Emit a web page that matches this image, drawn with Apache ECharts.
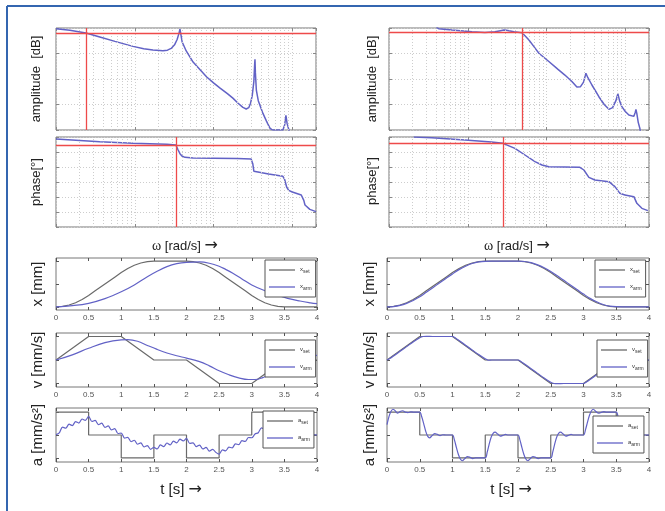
<!DOCTYPE html>
<html><head><meta charset="utf-8">
<script src="https://cdn.jsdelivr.net/npm/echarts@6/dist/echarts.min.js"></script>
<style>html,body{margin:0;padding:0;background:#fff}#c{width:665px;height:511px}</style>
</head><body><div id="c"></div>
<script>
// ---------- Bode data (omega [rad/s], value) ----------
const omegaRange = [1, 2000];
const leftAmp = [[1,19.5],[1.5,18.3],[2.4,16.1],[3.6,13.0],[5.6,9.5],[9.5,5.6],[13,3.8],[17,2.7],[22.8,2.1],[26,2.6],[29,4.0],[32,6.8],[34.5,11],[36.5,16],[37.5,19.2],[38.5,15],[40,9],[45,2],[55,-6.7],[68,-13],[82,-18.4],[100,-23],[120,-27],[150,-31.5],[176,-35],[205,-39],[236,-42.3],[260,-43.5],[280,-42.5],[295,-39],[310,-33],[325,-22],[333,-8],[336,-4.5],[340,-15],[350,-29],[370,-37],[424,-47],[470,-53],[520,-58.5],[560,-60],[760,-60],[800,-56],[830,-48.5],[860,-55],[906,-60],[940,-70]];
const leftPhase = [[1,-12],[3.6,-28],[9.5,-38],[25.6,-44],[33.3,-48],[35.3,-75],[37.5,-100],[39.7,-114],[43.4,-122],[55,-126],[100,-127],[200,-129],[300,-132],[315,-160],[325,-205],[340,-214],[500,-222],[760,-236],[800,-255],[848,-300],[900,-320],[1000,-330],[1300,-348],[1400,-380],[1450,-408],[1670,-434],[2000,-448]];
const rightAmp = [[4,20.5],[4.27,19.5],[6.3,18.4],[11.3,17.1],[16.5,16.4],[22.1,17.1],[26,17.9],[28.8,18.4],[31,18.2],[33.3,17.8],[38.6,17.0],[48.7,16.3],[54,13.5],[59.8,10.6],[70,5],[80,0.2],[107,-6.3],[140,-12.5],[171,-16.9],[210,-22],[243,-26.3],[270,-26],[295,-22.5],[316,-15.5],[335,-19],[377,-24.7],[462,-33.9],[540,-40],[620,-43.8],[690,-42.5],[760,-37],[805,-31.5],[850,-37.5],[905,-41.7],[1000,-45.5],[1110,-48.2],[1285,-49.3],[1340,-46],[1365,-43.8],[1400,-47],[1460,-54],[1530,-58.6],[1600,-66]];
const rightPhase = [[2.06,0],[3.5,-4],[9.2,-18],[20,-30],[28,-38],[39.7,-68],[53.2,-108],[71.3,-148],[87.5,-168],[107,-178],[265,-182],[298,-198],[345,-242],[411,-258],[620,-268],[738,-298],[855,-338],[989,-348],[1285,-358],[1403,-398],[1625,-428],[1936,-442]];
// red reference lines: [vertical omega, horizontal value]
const redLeftAmp = [2.4, 16.1];
const redLeftPhase = [33.3, -48];
const redRightAmp = [48.7, 16.3];
const redRightPhase = [28, -38];

// ---------- time-domain data (t [s], value) ----------
const timeTicks = [0, 4, 0.5];
const xSet = [[0,0],[0.1,1],[0.2,4],[0.3,9],[0.4,16],[0.5,25],[0.6,35],[0.7,45],[0.8,55],[0.9,65],[1.0,75],[1.1,84],[1.2,91],[1.3,96],[1.4,99],[1.5,100],[2.0,100],[2.1,99],[2.2,96],[2.3,91],[2.4,84],[2.5,75],[2.6,65],[2.7,55],[2.8,45],[2.9,35],[3.0,25],[3.1,16],[3.2,9],[3.3,4],[3.4,1],[3.5,0],[4,0]];
const vSet = [[0,0],[0.5,100],[1,100],[1.5,0],[2,0],[2.5,-100],[3,-100],[3.5,0],[4,0]];
const aSet = [[0,200],[0.5,0],[1,-200],[1.5,0],[2,-200],[2.5,0],[3,200],[3.5,0],[4,0]];

const xArmLeft = [[0,0],[0.25,2.5],[0.5,7.7],[0.75,18],[1.0,33],[1.2,48],[1.4,66],[1.55,78],[1.7,88],[1.85,94.5],[2.0,97.5],[2.2,98.3],[2.35,95.5],[2.5,89],[2.6,82],[2.71,73.5],[2.85,61],[3.0,48],[3.2,35.5],[3.38,26],[3.55,18.5],[3.74,12.7],[3.9,8.8],[4.0,6.8]];
const vArmLeft = [[0,0],[0.25,22],[0.5,50],[0.75,74],[1.0,86],[1.1,87],[1.25,80],[1.4,62],[1.55,45],[1.7,30],[1.85,18],[2.0,8],[2.2,-7],[2.35,-25],[2.5,-46],[2.65,-63],[2.8,-76],[2.95,-83],[3.05,-83],[3.17,-75],[3.28,-62],[3.43,-29],[3.54,-4],[3.7,10],[4.0,20]];
const aArmLeft = [[0,3],[0.05,18],[0.1,69],[0.15,60],[0.2,95],[0.25,82],[0.3,117],[0.35,104],[0.4,140],[0.45,128],[0.5,162],[0.55,118],[0.6,127],[0.65,91],[0.7,103],[0.75,67],[0.8,79],[0.85,44],[0.9,56],[0.95,13],[1.0,17],[1.05,-27],[1.1,-21],[1.15,-59],[1.2,-46],[1.25,-81],[1.3,-69],[1.35,-105],[1.4,-93],[1.45,-125],[1.5,-108],[1.55,-122],[1.6,-87],[1.65,-102],[1.7,-70],[1.75,-86],[1.8,-53],[1.85,-68],[1.9,-36],[1.95,-52],[2.0,-30],[2.05,-74],[2.1,-68],[2.15,-102],[2.2,-88],[2.25,-122],[2.3,-108],[2.35,-141],[2.4,-125],[2.45,-152],[2.5,-168],[2.55,-130],[2.6,-138],[2.65,-106],[2.7,-112],[2.75,-78],[2.8,-84],[2.85,-50],[2.9,-56],[2.95,-22],[3.0,-24],[3.05,8],[3.1,20],[3.15,62],[3.2,50],[3.25,82],[3.3,70],[3.4,60],[3.6,30],[3.8,10],[4.0,0]];

const xArmRight = [[0,0],[0.1,0.6],[0.2,3],[0.3,7.6],[0.4,14],[0.5,22],[0.6,32],[0.7,42],[0.8,52],[0.9,62],[1.0,72],[1.1,81.5],[1.2,89],[1.3,95],[1.4,98.5],[1.5,99.8],[1.6,100],[2.0,100],[2.1,99.3],[2.2,96.8],[2.3,92],[2.4,85.5],[2.5,77.5],[2.6,68],[2.7,58],[2.8,48],[2.9,38],[3.0,28],[3.1,18.5],[3.2,11],[3.3,5],[3.4,1.5],[3.5,0.2],[3.6,0],[4,0]];
const vArmRight = [[0,0],[0.05,7],[0.1,17],[0.2,37],[0.3,57],[0.4,77],[0.5,95],[0.55,100],[0.6,101],[0.7,100],[1.0,100],[1.05,93],[1.1,83],[1.2,63],[1.3,43],[1.4,23],[1.5,5],[1.55,-1],[1.6,0],[2.0,0],[2.05,-7],[2.1,-17],[2.2,-37],[2.3,-57],[2.4,-77],[2.5,-95],[2.55,-100],[2.6,-101],[2.7,-100],[3.0,-100],[3.05,-93],[3.1,-83],[3.2,-63],[3.3,-43],[3.4,-23],[3.5,-5],[3.55,1],[3.6,0],[4,0]];
const aArmRight = [[0,90],[0.03,160],[0.06,205],[0.09,225],[0.12,215],[0.16,190],[0.2,205],[0.24,212],[0.28,200],[0.32,196],[0.36,203],[0.4,200],[0.5,200],[0.53,160],[0.56,100],[0.59,35],[0.62,-10],[0.65,-25],[0.69,-5],[0.73,12],[0.77,5],[0.81,-5],[0.85,2],[0.9,0],[1.0,0],[1.03,-45],[1.06,-110],[1.09,-170],[1.12,-210],[1.15,-225],[1.19,-205],[1.23,-188],[1.27,-196],[1.31,-206],[1.35,-200],[1.5,-200],[1.53,-150],[1.56,-80],[1.59,-20],[1.62,15],[1.65,25],[1.69,8],[1.73,-10],[1.77,-3],[1.81,5],[1.85,0],[2.0,0],[2.03,-45],[2.06,-110],[2.09,-170],[2.12,-210],[2.15,-225],[2.19,-205],[2.23,-188],[2.27,-196],[2.31,-206],[2.35,-200],[2.5,-200],[2.53,-150],[2.56,-80],[2.59,-20],[2.62,15],[2.65,25],[2.69,8],[2.73,-10],[2.77,-3],[2.81,5],[2.85,0],[3.0,0],[3.03,45],[3.06,110],[3.09,170],[3.12,210],[3.15,225],[3.19,205],[3.23,190],[3.27,198],[3.31,205],[3.35,200],[3.5,200],[3.53,150],[3.56,80],[3.6,20],[3.65,-15],[3.7,5],[3.8,0],[4,0]];

// ---------- build ----------
const BLUE = '#6262c6', GRAY = '#6a6a6a', RED = '#ee4a4a';
const GRIDC = '#cdcdcd';
const FONT = '"Liberation Sans", Arial, sans-serif';

const grids = [
  {left:56, top:28, width:260, height:102},
  {left:56, top:137, width:260, height:90},
  {left:389, top:28, width:260, height:102},
  {left:389, top:137, width:260, height:90},
  {left:56, top:258, width:261, height:52},
  {left:56, top:333, width:261, height:54},
  {left:56, top:408, width:261, height:54},
  {left:387, top:258, width:262, height:52},
  {left:387, top:333, width:262, height:54},
  {left:387, top:408, width:262, height:54}
].map(g => Object.assign({show:true, borderColor:'#777', borderWidth:1, backgroundColor:'transparent'}, g));

const xAxes = [], yAxes = [];
function bodeAxes(gi, ymin, ymax, yint) {
  const base = {type:'log', logBase:10, gridIndex:gi, min:omegaRange[0], max:omegaRange[1],
    axisLine:{show:false, onZero:false}, axisLabel:{show:false},
    axisTick:{show:true, inside:true, length:3, lineStyle:{color:'#888'}}};
  xAxes.push(Object.assign({}, base, {position:'bottom', splitLine:{show:true, lineStyle:{color:GRIDC, type:[1,2]}}}));
  xAxes.push(Object.assign({}, base, {position:'top', splitLine:{show:false}}));
  const yb = {type:'value', gridIndex:gi, min:ymin, max:ymax, interval:yint,
    axisLine:{show:false, onZero:false}, axisLabel:{show:false},
    axisTick:{show:true, inside:true, length:3, lineStyle:{color:'#888'}}};
  yAxes.push(Object.assign({}, yb, {position:'left', splitLine:{show:true, lineStyle:{color:GRIDC, type:[1,2]}}}));
  yAxes.push(Object.assign({}, yb, {position:'right', splitLine:{show:false}}));
}
function timeAxes(gi, ymin, ymax, yticks) {
  const base = {type:'value', gridIndex:gi, min:timeTicks[0], max:timeTicks[1], interval:timeTicks[2],
    axisLine:{show:false, onZero:false}, splitLine:{show:false},
    axisTick:{show:true, inside:true, length:3, lineStyle:{color:'#555'}}};
  xAxes.push(Object.assign({}, base, {position:'bottom', axisLabel:{show:true, fontSize:8, color:'#555', margin:4, fontFamily:FONT}}));
  xAxes.push(Object.assign({}, base, {position:'top', axisLabel:{show:false}}));
  const yb = {type:'value', gridIndex:gi, min:ymin, max:ymax, axisLine:{show:false, onZero:false}, splitLine:{show:false}, axisLabel:{show:false},
    axisTick:{show:true, inside:true, length:3, customValues:yticks, lineStyle:{color:'#555'}}};
  yAxes.push(Object.assign({}, yb, {position:'left'}));
  yAxes.push(Object.assign({}, yb, {position:'right'}));
}
bodeAxes(0, -60, 20, 20);
bodeAxes(1, -540, 0, 90);
bodeAxes(2, -60, 20, 20);
bodeAxes(3, -540, 0, 90);
timeAxes(4, -7, 107, [0,50,100]);
timeAxes(5, -115, 115, [-100,0,100]);
timeAxes(6, -236, 236, [-200,0,200]);
timeAxes(7, -7, 107, [0,50,100]);
timeAxes(8, -115, 115, [-100,0,100]);
timeAxes(9, -236, 236, [-200,0,200]);

// minor log grid lines (2..9 per decade)
const minorW = [];
for (let d = 1; d < omegaRange[1]; d *= 10) for (let k = 2; k <= 9; k++) if (d*k < omegaRange[1]) minorW.push(d*k);

function bodeSeries(gi, data, red) {
  const ml = minorW.map(w => ({xAxis:w, lineStyle:{color:GRIDC, width:1, type:[1,2]}}));
  ml.push({xAxis:red[0], lineStyle:{color:RED, width:1.3, type:'solid'}});
  ml.push({yAxis:red[1], lineStyle:{color:RED, width:1.3, type:'solid'}});
  return {type:'line', xAxisIndex:2*gi, yAxisIndex:2*gi, data, symbol:'none', clip:true,
    lineStyle:{color:BLUE, width:1.5}, z:3,
    markLine:{silent:true, symbol:'none', label:{show:false}, animation:false, data:ml}};
}
function tSeries(gi, name, data, color, opts) {
  return Object.assign({type:'line', name, xAxisIndex:2*gi, yAxisIndex:2*gi, data, symbol:'none', clip:true,
    lineStyle:{color, width:1.2}, itemStyle:{color}}, opts||{});
}
const series = [
  bodeSeries(0, leftAmp, redLeftAmp),
  bodeSeries(1, leftPhase, redLeftPhase),
  bodeSeries(2, rightAmp, redRightAmp),
  bodeSeries(3, rightPhase, redRightPhase),
  tSeries(4, 'x_set_L', xSet, GRAY),
  tSeries(4, 'x_arm_L', xArmLeft, BLUE, {smooth:0.4}),
  tSeries(5, 'v_set_L', vSet, GRAY),
  tSeries(5, 'v_arm_L', vArmLeft, BLUE, {smooth:0.4}),
  tSeries(6, 'a_set_L', aSet, GRAY, {step:'end'}),
  tSeries(6, 'a_arm_L', aArmLeft, BLUE, {smooth:0.3}),
  tSeries(7, 'x_set_R', xSet, GRAY),
  tSeries(7, 'x_arm_R', xArmRight, BLUE, {smooth:0.3}),
  tSeries(8, 'v_set_R', vSet, GRAY),
  tSeries(8, 'v_arm_R', vArmRight, BLUE, {smooth:0.3}),
  tSeries(9, 'a_set_R', aSet, GRAY, {step:'end'}),
  tSeries(9, 'a_arm_R', aArmRight, BLUE, {smooth:0.3})
];

function legend(q, side, left, top) {
  return {show:true, orient:'vertical', left, top, data:[q+'_set_'+side, q+'_arm_'+side],
    backgroundColor:'#fff', borderColor:'#555', borderWidth:1, borderRadius:0,
    padding:[6,4,6,4], itemGap:9, itemWidth:26, itemHeight:1.3, icon:'rect',
    selectedMode:false,
    formatter: n => { const p = n.split('_'); return '{m|' + p[0] + '}{s|' + p[1] + '}'; },
    textStyle:{fontSize:6, color:'#333', fontFamily:FONT, lineHeight:8,
      rich:{m:{fontSize:6, color:'#333', fontFamily:FONT, verticalAlign:'top', lineHeight:8},
            s:{fontSize:5, color:'#333', fontFamily:FONT, verticalAlign:'bottom', lineHeight:8}}}};
}
const legends = [
  legend('x','L',265,260), legend('v','L',265,340), legend('a','L',263,411),
  legend('x','R',595,260), legend('v','R',597,340), legend('a','R',593,416)
];

function vtext(x, y, text, size) {
  return {type:'text', x, y, rotation:Math.PI/2, z:10,
    style:{text, font:size+'px '+FONT, fill:'#222', align:'center', verticalAlign:'middle'}};
}
function htext(x, y, text, size, rich) {
  return {type:'text', x, y, z:10,
    style:{text, font:size+'px '+FONT, fill:'#222', align:'center', verticalAlign:'middle', rich}};
}
const labelRich = {
  w:{fontFamily:'"Liberation Serif", "DejaVu Serif", serif', fontSize:14, fill:'#222'},
  ar:{fontFamily:'"DejaVu Sans", sans-serif', fontSize:16, fill:'#222'}
};
const graphics = [
  {type:'line', shape:{x1:7, y1:6, x2:665, y2:6}, style:{stroke:'#3466b0', lineWidth:2}},
  {type:'line', shape:{x1:7, y1:6, x2:7, y2:511}, style:{stroke:'#3466b0', lineWidth:2}},
  vtext(36, 79, 'amplitude  [dB]', 13), vtext(36, 182, 'phase[°]', 13),
  vtext(372, 79, 'amplitude  [dB]', 13), vtext(372, 181, 'phase[°]', 13),
  htext(185, 246, '{w|ω} [rad/s] {ar|→}', 13, labelRich), htext(517, 246, '{w|ω} [rad/s] {ar|→}', 13, labelRich),
  vtext(38, 284, 'x [mm]', 15), vtext(38, 360, 'v [mm/s]', 15), vtext(38, 435, 'a [mm/s²]', 15),
  vtext(370, 284, 'x [mm]', 15), vtext(370, 360, 'v [mm/s]', 15), vtext(370, 435, 'a [mm/s²]', 15),
  htext(181, 490, 't [s] {ar|→}', 15, labelRich), htext(511, 490, 't [s] {ar|→}', 15, labelRich)
];

const chart = echarts.init(document.getElementById('c'), null, {renderer:'canvas'});
chart.setOption({
  backgroundColor:'#fff', animation:false,
  grid:grids, xAxis:xAxes, yAxis:yAxes, series, legend:legends, graphic:graphics
});
</script></body></html>
